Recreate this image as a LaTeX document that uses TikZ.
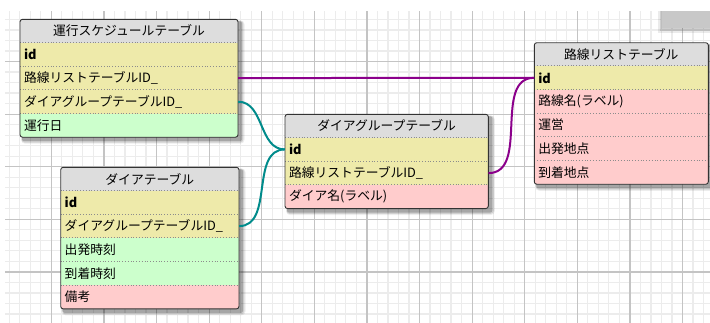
\documentclass[tikz,border=0pt]{standalone}
\usepackage{fontspec}
\newfontfamily\jp{Noto Sans CJK JP}
\definecolor{hdrgray}{RGB}{221,221,221}
\definecolor{yel}{RGB}{238,234,170}
\definecolor{grn}{RGB}{204,255,204}
\definecolor{pnk}{RGB}{255,204,204}
\definecolor{purp}{RGB}{139,0,139}
\definecolor{tealc}{RGB}{0,139,139}
\definecolor{minorc}{RGB}{236,236,236}
\definecolor{majorc}{RGB}{196,196,196}
\definecolor{boxgray}{RGB}{200,200,200}
\tikzset{
 tabfont/.style={font=\jp\fontsize{12.8}{15}\selectfont},
 hdr/.style={tabfont, fill=hdrgray, inner sep=0, minimum height=23.3, anchor=center},
 rowbox/.style={tabfont, inner xsep=4, inner ysep=0, minimum height=23.65, align=left, anchor=center},
 sep/.style={draw=black!45, dotted, line width=0.8},
 border/.style={draw=black!80, line width=0.9, rounded corners=2.5},
 link/.style={line width=2},
 minorline/.style={draw=minorc, line width=1.2},
 majorline/.style={draw=majorc, line width=1.2},
}
\newcommand\ertab[7]{%
 \pgfmathsetmacro\tabh{23.3+#5*23.65}%
 \pgfmathsetmacro\tw{#4-8}%
 \fill[black,opacity=0.07,rounded corners=4] (#2+1,#3+1) rectangle ++(#4+5.5,\tabh+5.5);
 \fill[black,opacity=0.12,rounded corners=3] (#2+1.5,#3+1.5) rectangle ++(#4+3.8,\tabh+3.8);
 \fill[black,opacity=0.2,rounded corners=2] (#2+2,#3+2) rectangle ++(#4+2,\tabh+2);
 \begin{scope}
  \clip[rounded corners=2.5] (#2,#3) rectangle ++(#4,\tabh);
  \node[hdr, minimum width=#4] (#1-h) at (#2+#4/2,#3+11.65) {#6};
  \foreach \c/\t [count=\i] in {#7} {
    \node[rowbox, fill=\c, text width=\tw pt] (#1-\i) at ({#2+#4/2},{#3+23.3+(\i-0.5)*23.65}) {\t};
    \draw[sep] (#1-\i.north west) -- (#1-\i.north east);
  }
 \end{scope}
 \node[border, minimum width=#4, minimum height=\tabh, inner sep=0] (#1) at ({#2+#4/2},{#3+\tabh/2}) {};
}
\begin{document}
\begin{tikzpicture}[x=1pt,y=-1pt]
\useasboundingbox (0,0) rectangle (710,322);
% grid
\begin{scope}
 \clip (5,11) rectangle (710,322);
 \foreach \k in {0,...,68} { \draw[minorline] ({-1.3+10.52*\k},11) -- ++(0,312); }
 \foreach \k in {0,...,30} { \draw[minorline] (5,{8.9+10.52*\k}) -- ++(706,0); }
 \foreach \k in {0,...,14} { \draw[majorline] ({-1.3+52.6*\k},11) -- ++(0,312); }
 \foreach \k in {0,...,6} { \draw[majorline] (5,{8.9+52.6*\k}) -- ++(706,0); }
\end{scope}
% partial gray box at top right
\fill[black,opacity=0.08] (658,11) rectangle (712,33);
\fill[black,opacity=0.12] (660,11) rectangle (712,30.5);
\node[fill=boxgray, inner sep=0, minimum width=50, minimum height=17, anchor=north west] (tb) at (662,11) {};
% tables
\ertab{t1}{20}{19.3}{218}{4}{運行スケジュールテーブル}{yel/{\bfseries id}, yel/路線リストテーブルID\_, yel/ダイアグループテーブルID\_, grn/運行日}
\ertab{t2}{60.7}{167.3}{178.3}{5}{ダイアテーブル}{yel/{\bfseries id}, yel/ダイアグループテーブルID\_, grn/出発時刻, grn/到着時刻, pnk/備考}
\ertab{t3}{285}{114.3}{203.3}{3}{ダイアグループテーブル}{yel/{\bfseries id}, yel/路線リストテーブルID\_, pnk/ダイア名(ラベル)}
\ertab{t4}{534.3}{42.7}{174}{5}{路線リストテーブル}{yel/{\bfseries id}, pnk/路線名(ラベル), pnk/運営, pnk/出発地点, pnk/到着地点}
% connectors
\draw[link, purp] (t1-2.east) -- (t4-1.west);
\draw[link, purp] (t3-2.east) to[out=0,in=180] (t4-1.west);
\draw[link, tealc] (t1-3.east) to[out=0,in=180] (t3-1.west);
\draw[link, tealc] (t2-2.east) to[out=0,in=180] (t3-1.west);
\end{tikzpicture}
\end{document}
